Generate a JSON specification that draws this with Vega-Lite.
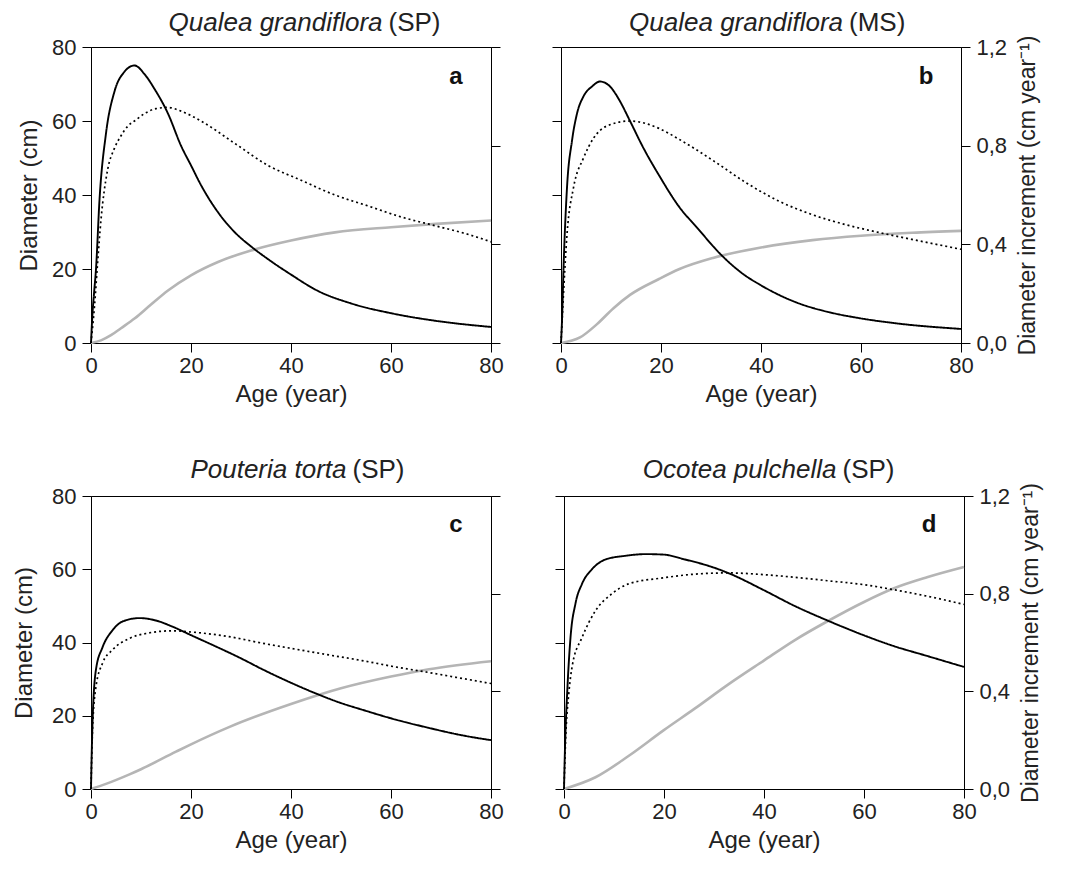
{
  "$schema": "https://vega.github.io/schema/vega-lite/v6.json",
  "padding": {"left": 12, "top": 9, "right": 5, "bottom": 5},
  "background": "white",
  "datasets": {
    "growth": [
      {"panel":"a","series":"Diameter","age":0,"value":0},
      {"panel":"a","series":"Diameter","age":2,"value":0.7},
      {"panel":"a","series":"Diameter","age":4,"value":2.1},
      {"panel":"a","series":"Diameter","age":6,"value":4.0},
      {"panel":"a","series":"Diameter","age":8.7,"value":6.6},
      {"panel":"a","series":"Diameter","age":12,"value":10.4},
      {"panel":"a","series":"Diameter","age":15.4,"value":14.2},
      {"panel":"a","series":"Diameter","age":20,"value":18.3},
      {"panel":"a","series":"Diameter","age":25.4,"value":21.9},
      {"panel":"a","series":"Diameter","age":32,"value":25.0},
      {"panel":"a","series":"Diameter","age":40,"value":27.7},
      {"panel":"a","series":"Diameter","age":48.8,"value":29.9},
      {"panel":"a","series":"Diameter","age":60,"value":31.3},
      {"panel":"a","series":"Diameter","age":69,"value":32.2},
      {"panel":"a","series":"Diameter","age":80,"value":33.1},
      {"panel":"a","series":"CAI","age":0,"value":0},
      {"panel":"a","series":"CAI","age":0.3,"value":0.12},
      {"panel":"a","series":"CAI","age":0.6,"value":0.2},
      {"panel":"a","series":"CAI","age":1,"value":0.3},
      {"panel":"a","series":"CAI","age":1.7,"value":0.58},
      {"panel":"a","series":"CAI","age":3,"value":0.85},
      {"panel":"a","series":"CAI","age":4.7,"value":1.02},
      {"panel":"a","series":"CAI","age":6.7,"value":1.1},
      {"panel":"a","series":"CAI","age":8.7,"value":1.125},
      {"panel":"a","series":"CAI","age":10.7,"value":1.09},
      {"panel":"a","series":"CAI","age":12.7,"value":1.03},
      {"panel":"a","series":"CAI","age":15.4,"value":0.93},
      {"panel":"a","series":"CAI","age":18,"value":0.8},
      {"panel":"a","series":"CAI","age":20,"value":0.72},
      {"panel":"a","series":"CAI","age":22,"value":0.64},
      {"panel":"a","series":"CAI","age":25.4,"value":0.53},
      {"panel":"a","series":"CAI","age":28.7,"value":0.45},
      {"panel":"a","series":"CAI","age":32.1,"value":0.39},
      {"panel":"a","series":"CAI","age":35.4,"value":0.34},
      {"panel":"a","series":"CAI","age":39.8,"value":0.28},
      {"panel":"a","series":"CAI","age":45.5,"value":0.21},
      {"panel":"a","series":"CAI","age":52.1,"value":0.16},
      {"panel":"a","series":"CAI","age":60.2,"value":0.12},
      {"panel":"a","series":"CAI","age":68.9,"value":0.09},
      {"panel":"a","series":"CAI","age":80,"value":0.065},
      {"panel":"a","series":"MAI","age":0,"value":0},
      {"panel":"a","series":"MAI","age":0.7,"value":0.15},
      {"panel":"a","series":"MAI","age":1.3,"value":0.32},
      {"panel":"a","series":"MAI","age":2,"value":0.5},
      {"panel":"a","series":"MAI","age":3.3,"value":0.7},
      {"panel":"a","series":"MAI","age":4.7,"value":0.79},
      {"panel":"a","series":"MAI","age":6,"value":0.84},
      {"panel":"a","series":"MAI","age":7.4,"value":0.88},
      {"panel":"a","series":"MAI","age":8.7,"value":0.9},
      {"panel":"a","series":"MAI","age":10.7,"value":0.93},
      {"panel":"a","series":"MAI","age":13,"value":0.95},
      {"panel":"a","series":"MAI","age":15.4,"value":0.955},
      {"panel":"a","series":"MAI","age":18,"value":0.94},
      {"panel":"a","series":"MAI","age":22,"value":0.9},
      {"panel":"a","series":"MAI","age":28.7,"value":0.81},
      {"panel":"a","series":"MAI","age":35.4,"value":0.72},
      {"panel":"a","series":"MAI","age":42,"value":0.66},
      {"panel":"a","series":"MAI","age":48.8,"value":0.6},
      {"panel":"a","series":"MAI","age":55.5,"value":0.555},
      {"panel":"a","series":"MAI","age":62.2,"value":0.51},
      {"panel":"a","series":"MAI","age":68.9,"value":0.475},
      {"panel":"a","series":"MAI","age":75.5,"value":0.44},
      {"panel":"a","series":"MAI","age":80,"value":0.41},

      {"panel":"b","series":"Diameter","age":0,"value":0},
      {"panel":"b","series":"Diameter","age":3.8,"value":1.5},
      {"panel":"b","series":"Diameter","age":7.2,"value":5.1},
      {"panel":"b","series":"Diameter","age":10.5,"value":9.4},
      {"panel":"b","series":"Diameter","age":13.8,"value":13.0},
      {"panel":"b","series":"Diameter","age":19.6,"value":17.3},
      {"panel":"b","series":"Diameter","age":23.7,"value":20.0},
      {"panel":"b","series":"Diameter","age":30.4,"value":23.0},
      {"panel":"b","series":"Diameter","age":40,"value":25.8},
      {"panel":"b","series":"Diameter","age":50.3,"value":27.8},
      {"panel":"b","series":"Diameter","age":60,"value":29.0},
      {"panel":"b","series":"Diameter","age":70.2,"value":29.8},
      {"panel":"b","series":"Diameter","age":80,"value":30.3},
      {"panel":"b","series":"CAI","age":0,"value":0},
      {"panel":"b","series":"CAI","age":0.2,"value":0.09},
      {"panel":"b","series":"CAI","age":0.5,"value":0.3},
      {"panel":"b","series":"CAI","age":1.2,"value":0.63},
      {"panel":"b","series":"CAI","age":2.2,"value":0.82},
      {"panel":"b","series":"CAI","age":3.2,"value":0.93},
      {"panel":"b","series":"CAI","age":4.5,"value":1.0},
      {"panel":"b","series":"CAI","age":6.2,"value":1.04},
      {"panel":"b","series":"CAI","age":7.8,"value":1.06},
      {"panel":"b","series":"CAI","age":9.8,"value":1.04},
      {"panel":"b","series":"CAI","age":11.8,"value":0.98},
      {"panel":"b","series":"CAI","age":13.8,"value":0.9},
      {"panel":"b","series":"CAI","age":16.5,"value":0.79},
      {"panel":"b","series":"CAI","age":19.6,"value":0.68},
      {"panel":"b","series":"CAI","age":23.7,"value":0.55},
      {"panel":"b","series":"CAI","age":27.1,"value":0.47},
      {"panel":"b","series":"CAI","age":32.4,"value":0.35},
      {"panel":"b","series":"CAI","age":36.4,"value":0.28},
      {"panel":"b","series":"CAI","age":39.9,"value":0.235},
      {"panel":"b","series":"CAI","age":47,"value":0.165},
      {"panel":"b","series":"CAI","age":53.6,"value":0.125},
      {"panel":"b","series":"CAI","age":59.9,"value":0.1},
      {"panel":"b","series":"CAI","age":66.9,"value":0.08},
      {"panel":"b","series":"CAI","age":80,"value":0.057},
      {"panel":"b","series":"MAI","age":0,"value":0},
      {"panel":"b","series":"MAI","age":0.5,"value":0.2},
      {"panel":"b","series":"MAI","age":1.2,"value":0.44},
      {"panel":"b","series":"MAI","age":2.5,"value":0.63},
      {"panel":"b","series":"MAI","age":4.5,"value":0.75},
      {"panel":"b","series":"MAI","age":6.5,"value":0.83},
      {"panel":"b","series":"MAI","age":9.2,"value":0.88},
      {"panel":"b","series":"MAI","age":13.8,"value":0.9},
      {"panel":"b","series":"MAI","age":19.6,"value":0.87},
      {"panel":"b","series":"MAI","age":23.7,"value":0.825},
      {"panel":"b","series":"MAI","age":30.4,"value":0.74},
      {"panel":"b","series":"MAI","age":37,"value":0.65},
      {"panel":"b","series":"MAI","age":43.6,"value":0.575},
      {"panel":"b","series":"MAI","age":50.3,"value":0.52},
      {"panel":"b","series":"MAI","age":56.9,"value":0.48},
      {"panel":"b","series":"MAI","age":63.6,"value":0.448},
      {"panel":"b","series":"MAI","age":70.2,"value":0.42},
      {"panel":"b","series":"MAI","age":80,"value":0.38},

      {"panel":"c","series":"Diameter","age":0,"value":0},
      {"panel":"c","series":"Diameter","age":3,"value":1.4},
      {"panel":"c","series":"Diameter","age":7.7,"value":4.0},
      {"panel":"c","series":"Diameter","age":10,"value":5.4},
      {"panel":"c","series":"Diameter","age":17,"value":10.2},
      {"panel":"c","series":"Diameter","age":20,"value":12.2},
      {"panel":"c","series":"Diameter","age":27.6,"value":16.9},
      {"panel":"c","series":"Diameter","age":40,"value":23.2},
      {"panel":"c","series":"Diameter","age":50,"value":27.5},
      {"panel":"c","series":"Diameter","age":60,"value":30.7},
      {"panel":"c","series":"Diameter","age":67.6,"value":32.7},
      {"panel":"c","series":"Diameter","age":80,"value":34.9},
      {"panel":"c","series":"CAI","age":0,"value":0},
      {"panel":"c","series":"CAI","age":0.1,"value":0.105},
      {"panel":"c","series":"CAI","age":0.3,"value":0.27},
      {"panel":"c","series":"CAI","age":1,"value":0.49},
      {"panel":"c","series":"CAI","age":2.3,"value":0.58},
      {"panel":"c","series":"CAI","age":4.3,"value":0.65},
      {"panel":"c","series":"CAI","age":6.3,"value":0.686},
      {"panel":"c","series":"CAI","age":9.7,"value":0.7},
      {"panel":"c","series":"CAI","age":13,"value":0.69},
      {"panel":"c","series":"CAI","age":16.3,"value":0.665},
      {"panel":"c","series":"CAI","age":20,"value":0.63},
      {"panel":"c","series":"CAI","age":24.3,"value":0.59},
      {"panel":"c","series":"CAI","age":30,"value":0.535},
      {"panel":"c","series":"CAI","age":34.3,"value":0.49},
      {"panel":"c","series":"CAI","age":40,"value":0.435},
      {"panel":"c","series":"CAI","age":44.3,"value":0.397},
      {"panel":"c","series":"CAI","age":50,"value":0.352},
      {"panel":"c","series":"CAI","age":54.2,"value":0.325},
      {"panel":"c","series":"CAI","age":59.9,"value":0.29},
      {"panel":"c","series":"CAI","age":67.6,"value":0.25},
      {"panel":"c","series":"CAI","age":74.2,"value":0.22},
      {"panel":"c","series":"CAI","age":80,"value":0.2},
      {"panel":"c","series":"MAI","age":0,"value":0},
      {"panel":"c","series":"MAI","age":0.3,"value":0.24},
      {"panel":"c","series":"MAI","age":1,"value":0.42},
      {"panel":"c","series":"MAI","age":2.3,"value":0.515},
      {"panel":"c","series":"MAI","age":4.3,"value":0.57},
      {"panel":"c","series":"MAI","age":7.7,"value":0.617},
      {"panel":"c","series":"MAI","age":11,"value":0.637},
      {"panel":"c","series":"MAI","age":16.3,"value":0.648},
      {"panel":"c","series":"MAI","age":20,"value":0.643},
      {"panel":"c","series":"MAI","age":27.6,"value":0.624},
      {"panel":"c","series":"MAI","age":34.3,"value":0.597},
      {"panel":"c","series":"MAI","age":40,"value":0.576},
      {"panel":"c","series":"MAI","age":47.6,"value":0.549},
      {"panel":"c","series":"MAI","age":54.2,"value":0.526},
      {"panel":"c","series":"MAI","age":60.9,"value":0.5},
      {"panel":"c","series":"MAI","age":67.6,"value":0.477},
      {"panel":"c","series":"MAI","age":74.2,"value":0.453},
      {"panel":"c","series":"MAI","age":80,"value":0.432},

      {"panel":"d","series":"Diameter","age":0,"value":0},
      {"panel":"d","series":"Diameter","age":6.3,"value":3.2},
      {"panel":"d","series":"Diameter","age":12.9,"value":9.0},
      {"panel":"d","series":"Diameter","age":19.9,"value":16.0},
      {"panel":"d","series":"Diameter","age":26.2,"value":22.0},
      {"panel":"d","series":"Diameter","age":32.8,"value":28.5},
      {"panel":"d","series":"Diameter","age":39.9,"value":35.0},
      {"panel":"d","series":"Diameter","age":46.1,"value":40.6},
      {"panel":"d","series":"Diameter","age":52.7,"value":45.8},
      {"panel":"d","series":"Diameter","age":59.9,"value":51.0},
      {"panel":"d","series":"Diameter","age":66,"value":54.8},
      {"panel":"d","series":"Diameter","age":72.6,"value":57.8},
      {"panel":"d","series":"Diameter","age":80,"value":60.6},
      {"panel":"d","series":"CAI","age":0,"value":0},
      {"panel":"d","series":"CAI","age":0.2,"value":0.17},
      {"panel":"d","series":"CAI","age":0.7,"value":0.42},
      {"panel":"d","series":"CAI","age":1.3,"value":0.62},
      {"panel":"d","series":"CAI","age":2.3,"value":0.76},
      {"panel":"d","series":"CAI","age":3.6,"value":0.84},
      {"panel":"d","series":"CAI","age":5.6,"value":0.9},
      {"panel":"d","series":"CAI","age":8.3,"value":0.94},
      {"panel":"d","series":"CAI","age":12.3,"value":0.955},
      {"panel":"d","series":"CAI","age":16.3,"value":0.962},
      {"panel":"d","series":"CAI","age":19.9,"value":0.96},
      {"panel":"d","series":"CAI","age":24.2,"value":0.94},
      {"panel":"d","series":"CAI","age":29.5,"value":0.91},
      {"panel":"d","series":"CAI","age":32.8,"value":0.885},
      {"panel":"d","series":"CAI","age":39.9,"value":0.815},
      {"panel":"d","series":"CAI","age":46.1,"value":0.75},
      {"panel":"d","series":"CAI","age":52.7,"value":0.69},
      {"panel":"d","series":"CAI","age":59.9,"value":0.63},
      {"panel":"d","series":"CAI","age":66,"value":0.585},
      {"panel":"d","series":"CAI","age":72.6,"value":0.545},
      {"panel":"d","series":"CAI","age":80,"value":0.5},
      {"panel":"d","series":"MAI","age":0,"value":0},
      {"panel":"d","series":"MAI","age":0.3,"value":0.19},
      {"panel":"d","series":"MAI","age":1,"value":0.4},
      {"panel":"d","series":"MAI","age":1.7,"value":0.51},
      {"panel":"d","series":"MAI","age":3.6,"value":0.62},
      {"panel":"d","series":"MAI","age":6.3,"value":0.73},
      {"panel":"d","series":"MAI","age":9.6,"value":0.8},
      {"panel":"d","series":"MAI","age":12.9,"value":0.84},
      {"panel":"d","series":"MAI","age":19.9,"value":0.865},
      {"panel":"d","series":"MAI","age":26.2,"value":0.88},
      {"panel":"d","series":"MAI","age":32.8,"value":0.885},
      {"panel":"d","series":"MAI","age":39.9,"value":0.878},
      {"panel":"d","series":"MAI","age":46.1,"value":0.867},
      {"panel":"d","series":"MAI","age":52.7,"value":0.853},
      {"panel":"d","series":"MAI","age":59.9,"value":0.837},
      {"panel":"d","series":"MAI","age":66,"value":0.816},
      {"panel":"d","series":"MAI","age":72.6,"value":0.79},
      {"panel":"d","series":"MAI","age":80,"value":0.756}
    ]
  },
  "vconcat": [
    {
      "hconcat": [
        {
          "width": 400, "height": 296,
          "layer": [
            {
              "layer": [
                {
                  "data": {"name": "growth"},
                  "transform": [{"filter": "datum.panel == 'a' && datum.series == 'Diameter'"}],
                  "mark": {"type": "line", "color": "#b5b5b5", "strokeWidth": 2.6, "interpolate": "monotone"},
                  "encoding": {
                    "x": {"field": "age", "type": "quantitative", "scale": {"domain": [0, 80]}, "axis": {"values": [0,20,40,60,80], "title": "Age (year)"}},
                    "y": {"field": "value", "type": "quantitative", "scale": {"domain": [0, 80]}, "axis": {"orient": "left", "values": [0,20,40,60,80], "title": "Diameter (cm)"}}
                  }
                },
                {
                  "data": {"values": [{}]},
                  "mark": {"type": "text", "text": "Qualea grandiflora", "fontStyle": "italic", "fontSize": 26, "align": "right", "baseline": "middle", "dx": -3, "color": "#222"},
                  "encoding": {
                    "x": {"datum": 58.9, "type": "quantitative", "scale": {"domain": [0, 80]}, "axis": {"values": [0,20,40,60,80], "title": "Age (year)"}},
                    "y": {"datum": 86.5, "type": "quantitative", "scale": {"domain": [0, 80]}, "axis": {"orient": "left", "values": [0,20,40,60,80], "title": "Diameter (cm)"}}
                  }
                },
                {
                  "data": {"values": [{}]},
                  "mark": {"type": "text", "text": "(SP)", "fontSize": 26, "align": "left", "baseline": "middle", "dx": 3, "color": "#222"},
                  "encoding": {
                    "x": {"datum": 58.9, "type": "quantitative", "scale": {"domain": [0, 80]}, "axis": {"values": [0,20,40,60,80], "title": "Age (year)"}},
                    "y": {"datum": 86.5, "type": "quantitative", "scale": {"domain": [0, 80]}, "axis": {"orient": "left", "values": [0,20,40,60,80], "title": "Diameter (cm)"}}
                  }
                },
                {
                  "data": {"values": [{}]},
                  "mark": {"type": "text", "text": "a", "fontWeight": "bold", "fontSize": 24, "align": "center", "baseline": "middle", "color": "#111"},
                  "encoding": {
                    "x": {"datum": 73, "type": "quantitative", "scale": {"domain": [0, 80]}, "axis": {"values": [0,20,40,60,80], "title": "Age (year)"}},
                    "y": {"datum": 72, "type": "quantitative", "scale": {"domain": [0, 80]}, "axis": {"orient": "left", "values": [0,20,40,60,80], "title": "Diameter (cm)"}}
                  }
                }
              ]
            },
            {
              "data": {"name": "growth"},
              "transform": [{"filter": "datum.panel == 'a' && datum.series != 'Diameter'"}],
              "mark": {"type": "line", "color": "black", "interpolate": "monotone"},
              "encoding": {
                "x": {"field": "age", "type": "quantitative", "scale": {"domain": [0, 80]}, "axis": {"values": [0,20,40,60,80], "title": "Age (year)"}},
                "y": {"field": "value", "type": "quantitative", "scale": {"domain": [0, 1.2]}, "axis": {"orient": "right", "values": [0,0.4,0.8,1.2], "labels": false, "title": null}},
                "strokeDash": {"field": "series", "type": "nominal", "scale": {"domain": ["CAI","MAI"], "range": [[1,0],[2,3]]}, "legend": null},
                "strokeWidth": {"field": "series", "type": "nominal", "scale": {"domain": ["CAI","MAI"], "range": [1.9,1.7]}, "legend": null}
              }
            }
          ],
          "resolve": {"scale": {"y": "independent"}}
        },
        {
          "width": 400, "height": 296,
          "layer": [
            {
              "layer": [
                {
                  "data": {"name": "growth"},
                  "transform": [{"filter": "datum.panel == 'b' && datum.series == 'Diameter'"}],
                  "mark": {"type": "line", "color": "#b5b5b5", "strokeWidth": 2.6, "interpolate": "monotone"},
                  "encoding": {
                    "x": {"field": "age", "type": "quantitative", "scale": {"domain": [0, 80]}, "axis": {"values": [0,20,40,60,80], "title": "Age (year)"}},
                    "y": {"field": "value", "type": "quantitative", "scale": {"domain": [0, 80]}, "axis": {"orient": "left", "values": [0,20,40,60,80], "labels": false, "title": null}}
                  }
                },
                {
                  "data": {"values": [{}]},
                  "mark": {"type": "text", "text": "Qualea grandiflora", "fontStyle": "italic", "fontSize": 26, "align": "right", "baseline": "middle", "dx": -3, "color": "#222"},
                  "encoding": {
                    "x": {"datum": 57, "type": "quantitative", "scale": {"domain": [0, 80]}, "axis": {"values": [0,20,40,60,80], "title": "Age (year)"}},
                    "y": {"datum": 86.5, "type": "quantitative", "scale": {"domain": [0, 80]}, "axis": {"orient": "left", "values": [0,20,40,60,80], "labels": false, "title": null}}
                  }
                },
                {
                  "data": {"values": [{}]},
                  "mark": {"type": "text", "text": "(MS)", "fontSize": 26, "align": "left", "baseline": "middle", "dx": 3, "color": "#222"},
                  "encoding": {
                    "x": {"datum": 57, "type": "quantitative", "scale": {"domain": [0, 80]}, "axis": {"values": [0,20,40,60,80], "title": "Age (year)"}},
                    "y": {"datum": 86.5, "type": "quantitative", "scale": {"domain": [0, 80]}, "axis": {"orient": "left", "values": [0,20,40,60,80], "labels": false, "title": null}}
                  }
                },
                {
                  "data": {"values": [{}]},
                  "mark": {"type": "text", "text": "b", "fontWeight": "bold", "fontSize": 24, "align": "center", "baseline": "middle", "color": "#111"},
                  "encoding": {
                    "x": {"datum": 73, "type": "quantitative", "scale": {"domain": [0, 80]}, "axis": {"values": [0,20,40,60,80], "title": "Age (year)"}},
                    "y": {"datum": 72, "type": "quantitative", "scale": {"domain": [0, 80]}, "axis": {"orient": "left", "values": [0,20,40,60,80], "labels": false, "title": null}}
                  }
                }
              ]
            },
            {
              "data": {"name": "growth"},
              "transform": [{"filter": "datum.panel == 'b' && datum.series != 'Diameter'"}],
              "mark": {"type": "line", "color": "black", "interpolate": "monotone"},
              "encoding": {
                "x": {"field": "age", "type": "quantitative", "scale": {"domain": [0, 80]}, "axis": {"values": [0,20,40,60,80], "title": "Age (year)"}},
                "y": {"field": "value", "type": "quantitative", "scale": {"domain": [0, 1.2]}, "axis": {"orient": "right", "values": [0,0.4,0.8,1.2], "title": "Diameter increment (cm year⁻¹)", "titleFontSize": 23, "titleAngle": 270, "titleBaseline": "top", "titlePadding": 10, "labelExpr": "replace(format(datum.value, '.1f'), '.', ',')"}},
                "strokeDash": {"field": "series", "type": "nominal", "scale": {"domain": ["CAI","MAI"], "range": [[1,0],[2,3]]}, "legend": null},
                "strokeWidth": {"field": "series", "type": "nominal", "scale": {"domain": ["CAI","MAI"], "range": [1.9,1.7]}, "legend": null}
              }
            }
          ],
          "resolve": {"scale": {"y": "independent"}}
        }
      ],
      "spacing": 47
    },
    {
      "hconcat": [
        {
          "width": 400, "height": 293,
          "layer": [
            {
              "layer": [
                {
                  "data": {"name": "growth"},
                  "transform": [{"filter": "datum.panel == 'c' && datum.series == 'Diameter'"}],
                  "mark": {"type": "line", "color": "#b5b5b5", "strokeWidth": 2.6, "interpolate": "monotone"},
                  "encoding": {
                    "x": {"field": "age", "type": "quantitative", "scale": {"domain": [0, 80]}, "axis": {"values": [0,20,40,60,80], "title": "Age (year)"}},
                    "y": {"field": "value", "type": "quantitative", "scale": {"domain": [0, 80]}, "axis": {"orient": "left", "values": [0,20,40,60,80], "title": "Diameter (cm)", "titlePadding": 15}}
                  }
                },
                {
                  "data": {"values": [{}]},
                  "mark": {"type": "text", "text": "Pouteria torta", "fontStyle": "italic", "fontSize": 26, "align": "right", "baseline": "middle", "dx": -3, "color": "#222"},
                  "encoding": {
                    "x": {"datum": 51.7, "type": "quantitative", "scale": {"domain": [0, 80]}, "axis": {"values": [0,20,40,60,80], "title": "Age (year)"}},
                    "y": {"datum": 87, "type": "quantitative", "scale": {"domain": [0, 80]}, "axis": {"orient": "left", "values": [0,20,40,60,80], "title": "Diameter (cm)", "titlePadding": 15}}
                  }
                },
                {
                  "data": {"values": [{}]},
                  "mark": {"type": "text", "text": "(SP)", "fontSize": 26, "align": "left", "baseline": "middle", "dx": 3, "color": "#222"},
                  "encoding": {
                    "x": {"datum": 51.7, "type": "quantitative", "scale": {"domain": [0, 80]}, "axis": {"values": [0,20,40,60,80], "title": "Age (year)"}},
                    "y": {"datum": 87, "type": "quantitative", "scale": {"domain": [0, 80]}, "axis": {"orient": "left", "values": [0,20,40,60,80], "title": "Diameter (cm)", "titlePadding": 15}}
                  }
                },
                {
                  "data": {"values": [{}]},
                  "mark": {"type": "text", "text": "c", "fontWeight": "bold", "fontSize": 24, "align": "center", "baseline": "middle", "color": "#111"},
                  "encoding": {
                    "x": {"datum": 73, "type": "quantitative", "scale": {"domain": [0, 80]}, "axis": {"values": [0,20,40,60,80], "title": "Age (year)"}},
                    "y": {"datum": 72, "type": "quantitative", "scale": {"domain": [0, 80]}, "axis": {"orient": "left", "values": [0,20,40,60,80], "title": "Diameter (cm)", "titlePadding": 15}}
                  }
                }
              ]
            },
            {
              "data": {"name": "growth"},
              "transform": [{"filter": "datum.panel == 'c' && datum.series != 'Diameter'"}],
              "mark": {"type": "line", "color": "black", "interpolate": "monotone"},
              "encoding": {
                "x": {"field": "age", "type": "quantitative", "scale": {"domain": [0, 80]}, "axis": {"values": [0,20,40,60,80], "title": "Age (year)"}},
                "y": {"field": "value", "type": "quantitative", "scale": {"domain": [0, 1.2]}, "axis": {"orient": "right", "values": [0,0.4,0.8,1.2], "labels": false, "title": null}},
                "strokeDash": {"field": "series", "type": "nominal", "scale": {"domain": ["CAI","MAI"], "range": [[1,0],[2,3]]}, "legend": null},
                "strokeWidth": {"field": "series", "type": "nominal", "scale": {"domain": ["CAI","MAI"], "range": [1.9,1.7]}, "legend": null}
              }
            }
          ],
          "resolve": {"scale": {"y": "independent"}}
        },
        {
          "width": 400, "height": 293,
          "layer": [
            {
              "layer": [
                {
                  "data": {"name": "growth"},
                  "transform": [{"filter": "datum.panel == 'd' && datum.series == 'Diameter'"}],
                  "mark": {"type": "line", "color": "#b5b5b5", "strokeWidth": 2.6, "interpolate": "monotone"},
                  "encoding": {
                    "x": {"field": "age", "type": "quantitative", "scale": {"domain": [0, 80]}, "axis": {"values": [0,20,40,60,80], "title": "Age (year)"}},
                    "y": {"field": "value", "type": "quantitative", "scale": {"domain": [0, 80]}, "axis": {"orient": "left", "values": [0,20,40,60,80], "labels": false, "title": null}}
                  }
                },
                {
                  "data": {"values": [{}]},
                  "mark": {"type": "text", "text": "Ocotea pulchella", "fontStyle": "italic", "fontSize": 26, "align": "right", "baseline": "middle", "dx": -3, "color": "#222"},
                  "encoding": {
                    "x": {"datum": 55.1, "type": "quantitative", "scale": {"domain": [0, 80]}, "axis": {"values": [0,20,40,60,80], "title": "Age (year)"}},
                    "y": {"datum": 87, "type": "quantitative", "scale": {"domain": [0, 80]}, "axis": {"orient": "left", "values": [0,20,40,60,80], "labels": false, "title": null}}
                  }
                },
                {
                  "data": {"values": [{}]},
                  "mark": {"type": "text", "text": "(SP)", "fontSize": 26, "align": "left", "baseline": "middle", "dx": 3, "color": "#222"},
                  "encoding": {
                    "x": {"datum": 55.1, "type": "quantitative", "scale": {"domain": [0, 80]}, "axis": {"values": [0,20,40,60,80], "title": "Age (year)"}},
                    "y": {"datum": 87, "type": "quantitative", "scale": {"domain": [0, 80]}, "axis": {"orient": "left", "values": [0,20,40,60,80], "labels": false, "title": null}}
                  }
                },
                {
                  "data": {"values": [{}]},
                  "mark": {"type": "text", "text": "d", "fontWeight": "bold", "fontSize": 24, "align": "center", "baseline": "middle", "color": "#111"},
                  "encoding": {
                    "x": {"datum": 73, "type": "quantitative", "scale": {"domain": [0, 80]}, "axis": {"values": [0,20,40,60,80], "title": "Age (year)"}},
                    "y": {"datum": 72, "type": "quantitative", "scale": {"domain": [0, 80]}, "axis": {"orient": "left", "values": [0,20,40,60,80], "labels": false, "title": null}}
                  }
                }
              ]
            },
            {
              "data": {"name": "growth"},
              "transform": [{"filter": "datum.panel == 'd' && datum.series != 'Diameter'"}],
              "mark": {"type": "line", "color": "black", "interpolate": "monotone"},
              "encoding": {
                "x": {"field": "age", "type": "quantitative", "scale": {"domain": [0, 80]}, "axis": {"values": [0,20,40,60,80], "title": "Age (year)"}},
                "y": {"field": "value", "type": "quantitative", "scale": {"domain": [0, 1.2]}, "axis": {"orient": "right", "values": [0,0.4,0.8,1.2], "title": "Diameter increment (cm year⁻¹)", "titleFontSize": 23, "titleAngle": 270, "titleBaseline": "top", "titlePadding": 10, "labelExpr": "replace(format(datum.value, '.1f'), '.', ',')"}},
                "strokeDash": {"field": "series", "type": "nominal", "scale": {"domain": ["CAI","MAI"], "range": [[1,0],[2,3]]}, "legend": null},
                "strokeWidth": {"field": "series", "type": "nominal", "scale": {"domain": ["CAI","MAI"], "range": [1.9,1.7]}, "legend": null}
              }
            }
          ],
          "resolve": {"scale": {"y": "independent"}}
        }
      ],
      "spacing": 50
    }
  ],
  "spacing": 49,
  "config": {
    "font": "Liberation Sans",
    "view": {"stroke": "black", "strokeWidth": 1},
    "text": {"font": "Liberation Sans"},
    "axis": {
      "grid": false,
      "domainColor": "black",
      "tickColor": "black",
      "domainWidth": 1,
      "tickWidth": 1,
      "tickSize": 9,
      "labelFont": "Liberation Sans",
      "titleFont": "Liberation Sans",
      "labelFontSize": 22,
      "titleFontSize": 24,
      "titleFontWeight": "normal",
      "labelColor": "#222",
      "titleColor": "#222",
      "labelFlush": false,
      "labelPadding": 6,
      "titlePadding": 10
    },
    "axisX": {"labelPadding": 3, "titlePadding": 6}
  }
}
